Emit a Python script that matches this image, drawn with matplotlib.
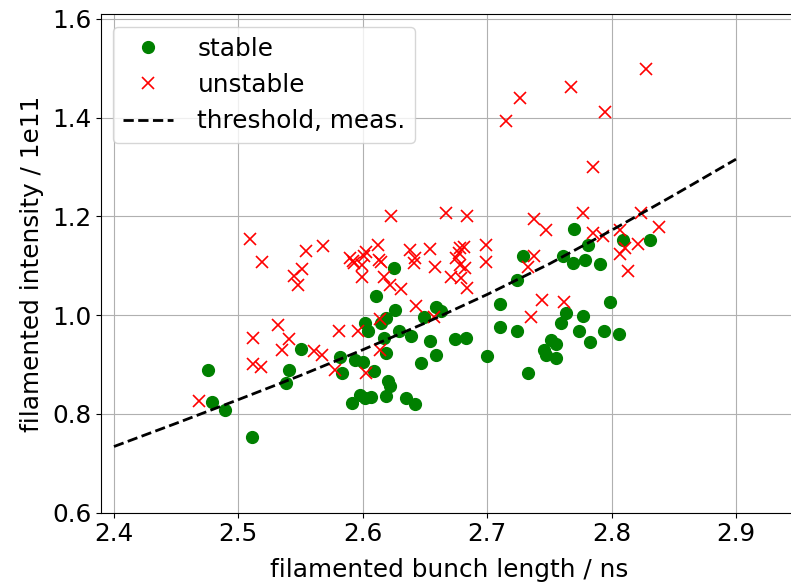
import matplotlib
matplotlib.use("Agg")
import matplotlib.pyplot as plt
import numpy as np

# stable bunches: filamented bunch length [ns], filamented intensity [1e11]
stable_len = [2.476, 2.479, 2.489, 2.511, 2.538, 2.541, 2.550, 2.582, 2.583, 2.591,
              2.594, 2.600, 2.598, 2.602, 2.607, 2.602, 2.604, 2.609, 2.611, 2.615,
              2.617, 2.619, 2.619, 2.620, 2.622, 2.619, 2.625, 2.626, 2.629, 2.635,
              2.639, 2.642, 2.647, 2.649, 2.654, 2.659, 2.659, 2.663, 2.674, 2.683,
              2.700, 2.710, 2.710, 2.724, 2.724, 2.729, 2.733, 2.746, 2.751, 2.755,
              2.747, 2.755, 2.759, 2.763, 2.761, 2.769, 2.770, 2.774, 2.777, 2.779,
              2.781, 2.783, 2.791, 2.794, 2.799, 2.806, 2.809, 2.831]
stable_int = [0.890, 0.825, 0.807, 0.754, 0.863, 0.890, 0.932, 0.916, 0.882, 0.823,
              0.909, 0.906, 0.838, 0.832, 0.835, 0.984, 0.967, 0.886, 1.038, 0.984,
              0.953, 0.994, 0.923, 0.867, 0.857, 0.836, 1.096, 1.011, 0.969, 0.832,
              0.957, 0.820, 0.904, 0.997, 0.948, 1.017, 0.919, 1.009, 0.951, 0.953,
              0.917, 1.022, 0.977, 1.071, 0.968, 1.120, 0.882, 0.930, 0.950, 0.942,
              0.919, 0.913, 0.984, 1.004, 1.120, 1.106, 1.175, 0.968, 0.999, 1.112,
              1.142, 0.946, 1.103, 0.968, 1.026, 0.962, 1.152, 1.152]

# unstable bunches
unstable_len = [2.468, 2.509, 2.512, 2.512, 2.518, 2.519, 2.532, 2.535, 2.541, 2.545,
                2.548, 2.551, 2.554, 2.561, 2.567, 2.568, 2.578, 2.581, 2.590, 2.592,
                2.593, 2.596, 2.599, 2.599, 2.603, 2.601, 2.603, 2.612, 2.613, 2.615,
                2.614, 2.614, 2.617, 2.622, 2.623, 2.631, 2.638, 2.642, 2.641, 2.643,
                2.654, 2.657, 2.658, 2.667, 2.675, 2.677, 2.678, 2.681, 2.678, 2.682,
                2.671, 2.679, 2.684, 2.684, 2.699, 2.699, 2.715, 2.726, 2.733, 2.735,
                2.738, 2.738, 2.744, 2.747, 2.762, 2.767, 2.777, 2.785, 2.785, 2.793,
                2.795, 2.807, 2.807, 2.811, 2.813, 2.821, 2.824, 2.828, 2.838]
unstable_int = [0.827, 1.154, 0.953, 0.901, 0.895, 1.108, 0.980, 0.930, 0.951, 1.080,
                1.061, 1.093, 1.130, 0.928, 0.919, 1.140, 0.890, 0.967, 1.115, 1.110,
                1.106, 0.967, 1.102, 1.078, 1.129, 1.120, 0.882, 1.143, 1.112, 1.107,
                0.992, 0.930, 1.078, 1.061, 1.200, 1.053, 1.132, 1.115, 1.105, 1.019,
                1.134, 0.996, 1.098, 1.208, 1.115, 1.125, 1.137, 1.139, 1.102, 1.095,
                1.078, 1.075, 1.055, 1.200, 1.142, 1.108, 1.393, 1.439, 1.097, 0.996,
                1.120, 1.194, 1.031, 1.173, 1.026, 1.463, 1.208, 1.301, 1.166, 1.160,
                1.412, 1.173, 1.123, 1.136, 1.090, 1.144, 1.208, 1.498, 1.178]

# measured instability threshold
thr_len = [2.40, 2.45, 2.50, 2.55, 2.60, 2.65, 2.70, 2.75, 2.80, 2.85, 2.90]
thr_int = [0.734, 0.781, 0.829, 0.878, 0.930, 0.984, 1.042, 1.104, 1.172, 1.243, 1.316]

plt.rcParams["font.size"] = 17.8

fig = plt.figure(figsize=(7.91, 5.83), dpi=100)
ax = fig.add_axes([0.1277, 0.1206, 0.8814, 0.8549])

ax.plot(stable_len, stable_int, "go", ms=8.5, label="stable")
ax.plot(unstable_len, unstable_int, "rx", ms=8, mew=1.2, label="unstable")
ax.plot(thr_len, thr_int, "k--", lw=2, label="threshold, meas.")

ax.set_xlim(2.3896, 2.95)
ax.set_ylim(0.6, 1.6095)
ax.set_xticks(np.arange(2.4, 2.95, 0.1))
ax.set_yticks(np.arange(0.6, 1.65, 0.2))
ax.grid(True)
ax.set_xlabel("filamented bunch length / ns", labelpad=8)
ax.set_ylabel("filamented intensity / 1e11", labelpad=6)
ax.legend(loc="upper left", handletextpad=1.0)

fig.savefig("out.png", dpi=100)
